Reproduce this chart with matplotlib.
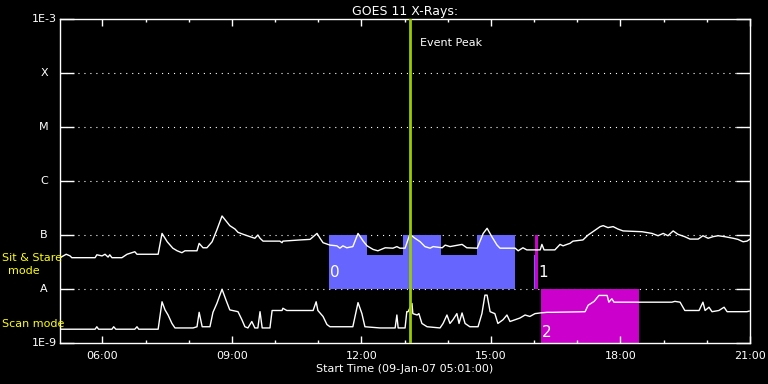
import matplotlib
matplotlib.use("Agg")
import matplotlib.pyplot as plt
import matplotlib.ticker as mtick
from matplotlib.transforms import blended_transform_factory

plt.rcParams.update({"font.family": "DejaVu Sans", "lines.scale_dashes": False})

# ---- data (hours of 09-Jan-2007, flux W/m^2) ----
T_START, T_END = 5 + 1 / 60, 21.0
EVENT_PEAK = 13.12

long_t = [5.02, 5.16, 5.25, 5.29, 5.83, 5.87, 5.99, 6.06, 6.13, 6.17, 6.22, 6.45, 6.57, 6.75, 6.80,
          7.29, 7.38, 7.50, 7.63, 7.73, 7.84, 7.91, 8.19, 8.24, 8.33, 8.42, 8.54, 8.65, 8.77, 8.95,
          9.07, 9.14, 9.26, 9.42, 9.53, 9.60, 9.65, 9.72, 10.11, 10.16, 10.18, 10.58, 10.81, 10.97,
          11.04, 11.11, 11.27, 11.43, 11.50, 11.57, 11.66, 11.80, 11.92, 12.04, 12.13, 12.27, 12.38,
          12.55, 12.73, 12.82, 12.89, 13.01, 13.12, 13.24, 13.36, 13.47, 13.59, 13.66, 13.87, 13.94,
          14.05, 14.33, 14.44, 14.68, 14.82, 14.91, 15.02, 15.14, 15.21, 15.56, 15.63, 15.74, 15.83,
          16.14, 16.18, 16.23, 16.48, 16.60, 16.67, 16.76, 16.83, 16.90, 17.13, 17.25, 17.36, 17.53,
          17.60, 17.71, 17.83, 17.94, 18.06, 18.50, 18.73, 18.87, 18.99, 19.10, 19.22, 19.33, 19.49,
          19.61, 19.80, 19.91, 20.03, 20.14, 20.26, 20.42, 20.61, 20.72, 20.84, 20.93, 21.00]
long_flux = [3.8e-8, 4.4e-8, 4.1e-8, 3.8e-8, 3.8e-8, 4.3e-8, 4.1e-8, 4.4e-8, 3.9e-8, 4.3e-8, 3.8e-8,
             3.8e-8, 4.4e-8, 4.9e-8, 4.4e-8, 4.4e-8, 1.07e-7, 7.5e-8, 5.7e-8, 5.1e-8, 4.7e-8, 5.1e-8,
             5.1e-8, 7.0e-8, 5.8e-8, 5.8e-8, 7.5e-8, 1.24e-7, 2.25e-7, 1.49e-7, 1.29e-7, 1.12e-7,
             1.03e-7, 9.3e-8, 8.7e-8, 1.0e-7, 8.7e-8, 7.7e-8, 7.7e-8, 7.2e-8, 7.7e-8, 8.1e-8, 8.3e-8,
             1.07e-7, 8.7e-8, 7.2e-8, 6.5e-8, 6.3e-8, 5.7e-8, 6.3e-8, 5.8e-8, 6.1e-8, 1.07e-7, 7.7e-8,
             6.3e-8, 5.4e-8, 5.1e-8, 5.8e-8, 5.7e-8, 6.1e-8, 5.7e-8, 5.7e-8, 1.03e-7, 8.7e-8, 7.5e-8,
             6.1e-8, 5.7e-8, 6.1e-8, 5.8e-8, 6.5e-8, 6.1e-8, 6.7e-8, 5.8e-8, 5.7e-8, 1.07e-7, 1.33e-7,
             9.3e-8, 6.5e-8, 5.7e-8, 5.7e-8, 5.1e-8, 5.8e-8, 5.3e-8, 5.3e-8, 6.7e-8, 5.3e-8, 5.3e-8,
             6.7e-8, 6.3e-8, 6.7e-8, 7.0e-8, 7.7e-8, 8.1e-8, 1.0e-7, 1.15e-7, 1.43e-7, 1.49e-7, 1.37e-7,
             1.43e-7, 1.29e-7, 1.19e-7, 1.15e-7, 1.07e-7, 9.7e-8, 1.07e-7, 9.7e-8, 1.19e-7, 1.03e-7,
             9.3e-8, 8.4e-8, 8.4e-8, 9.7e-8, 8.7e-8, 9.3e-8, 9.7e-8, 9.3e-8, 8.7e-8, 8.3e-8, 7.5e-8,
             7.7e-8, 8.4e-8]

short_t = [5.02, 5.83, 5.87, 5.91, 6.22, 6.26, 6.31, 6.75, 6.80, 6.84, 7.29, 7.38, 7.45, 7.52, 7.61,
           7.68, 8.10, 8.19, 8.24, 8.31, 8.49, 8.56, 8.65, 8.77, 8.86, 8.95, 9.14, 9.23, 9.30, 9.37,
           9.46, 9.53, 9.60, 9.65, 9.70, 9.88, 9.93, 10.16, 10.18, 10.27, 10.88, 10.95, 10.99, 11.11,
           11.20, 11.27, 11.80, 11.92, 12.01, 12.08, 12.43, 12.78, 12.82, 12.85, 13.01, 13.05, 13.08,
           13.17, 13.19, 13.29, 13.33, 13.40, 13.52, 13.82, 13.89, 13.98, 14.05, 14.12, 14.21, 14.26,
           14.33, 14.40, 14.51, 14.70, 14.79, 14.86, 14.91, 14.98, 15.09, 15.16, 15.28, 15.37, 15.44,
           15.56, 15.67, 15.79, 15.90, 16.02, 16.14, 16.30, 16.44, 17.18, 17.25, 17.39, 17.50, 17.69,
           17.73, 17.80, 17.85, 19.19, 19.26, 19.38, 19.49, 19.82, 19.91, 19.96, 20.05, 20.12, 20.28,
           20.40, 20.47, 20.93, 20.98]
short_flux = [1.8e-9, 1.8e-9, 2.0e-9, 1.8e-9, 1.8e-9, 2.0e-9, 1.8e-9, 1.8e-9, 2.0e-9, 1.8e-9, 1.8e-9,
              5.8e-9, 4.1e-9, 3.3e-9, 2.3e-9, 1.9e-9, 1.9e-9, 2.0e-9, 3.7e-9, 2.0e-9, 2.0e-9, 3.7e-9,
              5.4e-9, 9.9e-9, 6.3e-9, 4.1e-9, 3.8e-9, 2.7e-9, 2.0e-9, 1.9e-9, 2.5e-9, 1.9e-9, 1.9e-9,
              3.8e-9, 1.9e-9, 1.9e-9, 4.0e-9, 4.0e-9, 4.4e-9, 4.0e-9, 4.0e-9, 5.8e-9, 4.0e-9, 3.1e-9,
              2.2e-9, 2.0e-9, 2.0e-9, 5.6e-9, 3.5e-9, 2.0e-9, 1.9e-9, 1.9e-9, 3.3e-9, 1.9e-9, 1.9e-9,
              3.8e-9, 3.8e-9, 5.4e-9, 3.5e-9, 3.3e-9, 3.5e-9, 2.3e-9, 2.0e-9, 1.9e-9, 2.3e-9, 3.3e-9,
              2.3e-9, 2.7e-9, 3.5e-9, 2.3e-9, 3.6e-9, 2.3e-9, 2.0e-9, 2.0e-9, 3.5e-9, 7.7e-9, 7.7e-9,
              3.8e-9, 3.5e-9, 2.3e-9, 2.7e-9, 3.3e-9, 2.5e-9, 2.7e-9, 2.9e-9, 3.3e-9, 3.1e-9, 3.5e-9,
              3.6e-9, 3.7e-9, 3.7e-9, 3.8e-9, 5.0e-9, 5.9e-9, 7.6e-9, 7.6e-9, 5.7e-9, 6.6e-9, 5.7e-9,
              5.7e-9, 5.9e-9, 5.7e-9, 4.0e-9, 4.0e-9, 5.7e-9, 4.0e-9, 4.6e-9, 3.8e-9, 4.0e-9, 4.6e-9,
              3.8e-9, 3.8e-9, 3.9e-9]

# sit & stare observation window (blue), top follows the pointing schedule
sit_t = [11.25, 12.13, 12.13, 12.97, 12.97, 13.84, 13.84, 14.68, 14.68, 15.56]
sit_top = [1e-7, 1e-7, 4.3e-8, 4.3e-8, 1e-7, 1e-7, 4.3e-8, 4.3e-8, 1e-7, 1e-7]
sliver = (16.00, 16.02, 4.3e-8)        # tiny blue sliver before event 1
# label, start, end, low flux, high flux, label time, label flux
events = [("1", 16.02, 16.09, 1e-8, 1e-7, 16.095, 2.0e-8),
          ("2", 16.16, 18.43, 1e-9, 1e-8, 16.18, 1.55e-9)]

decades = [1e-9, 1e-8, 1e-7, 1e-6, 1e-5, 1e-4, 1e-3]
decade_labels = ["1E-9", "A", "B", "C", "M", "X", "1E-3"]
BLUE, MAGENTA, GREEN, YELLOW = "#6666FF", "#CC00CC", "#99CC00", "#FFFF00"

fig = plt.figure(figsize=(7.68, 3.84), dpi=100, facecolor="black")
ax = fig.add_axes([60 / 768, 1 - 343 / 384, 690 / 768, 324 / 384], facecolor="black")
ax.set_yscale("log")
ax.set_xlim(T_START, T_END)
ax.set_ylim(1e-9, 1e-3)

# observation windows
ax.fill_between(sit_t, 1e-8, sit_top, color=BLUE, lw=0, zorder=1)
ax.fill_between(sliver[:2], 1e-8, sliver[2], color=BLUE, lw=0, zorder=1)
ax.text(11.27, 2.0e-8, "0", color="white", fontsize=11, va="center", ha="left", zorder=4)
for lab, t0, t1, lo, hi, lt, lf in events:
    ax.fill_between([t0, t1], lo, hi, color=MAGENTA, lw=0, zorder=1)
    ax.text(lt, lf, lab, color="white", fontsize=11, va="center", ha="left", zorder=4)

ax.plot(long_t, long_flux, color="white", lw=1, zorder=3)
ax.plot(short_t, short_flux, color="white", lw=1, zorder=3)

ax.axvline(EVENT_PEAK, color=GREEN, lw=2, zorder=5)
ax.text(EVENT_PEAK + 0.24, 3.6e-4, "Event Peak", color="white", fontsize=8, va="center")

# axes styling
for s in ax.spines.values():
    s.set_color("white")
    s.set_linewidth(1)
ax.set_yticks(decades)
ax.yaxis.set_minor_locator(mtick.NullLocator())
ax.set_yticklabels([])
ax.tick_params(axis="y", which="major", direction="in", length=10, width=1, color="white",
               left=True, right=True)
for yv in decades[1:-1]:
    ax.axhline(yv, color="white", lw=0.8, dashes=(0.8, 3.5), zorder=0.5)
tr = blended_transform_factory(fig.transFigure, ax.transData)
for yv, lab in zip(decades, decade_labels):
    if lab.startswith("1E"):
        ax.text(57 / 768, yv, lab, transform=tr, ha="right", va="center", color="white", fontsize=8)
    else:
        ax.text(44 / 768, yv, lab, transform=tr, ha="center", va="center", color="white", fontsize=8)

ax.set_xticks([6, 9, 12, 15, 18, 21])
ax.xaxis.set_minor_locator(mtick.FixedLocator(range(6, 21)))
ax.xaxis.set_major_formatter(mtick.FuncFormatter(lambda h, _: f"{int(round(h)):02d}:00"))
ax.tick_params(axis="x", which="major", direction="in", length=5, width=1, color="white",
               labelcolor="white", labelsize=8, top=True, pad=6)
ax.tick_params(axis="x", which="minor", direction="in", length=2.5, width=1, color="white", top=True)
ax.set_xlabel("Start Time (09-Jan-07 05:01:00)", color="white", fontsize=8, labelpad=2)
ax.set_title("GOES 11 X-Rays:", color="white", fontsize=9, pad=3)

fig.text(2 / 768, 1 - 258 / 384, "Sit & Stare", color=YELLOW, fontsize=8, va="center", ha="left")
fig.text(24 / 768, 1 - 271 / 384, "mode", color=YELLOW, fontsize=8, va="center", ha="center")
fig.text(2 / 768, 1 - 324 / 384, "Scan mode", color=YELLOW, fontsize=8, va="center", ha="left")

fig.savefig("out.png", dpi=100, facecolor="black")
